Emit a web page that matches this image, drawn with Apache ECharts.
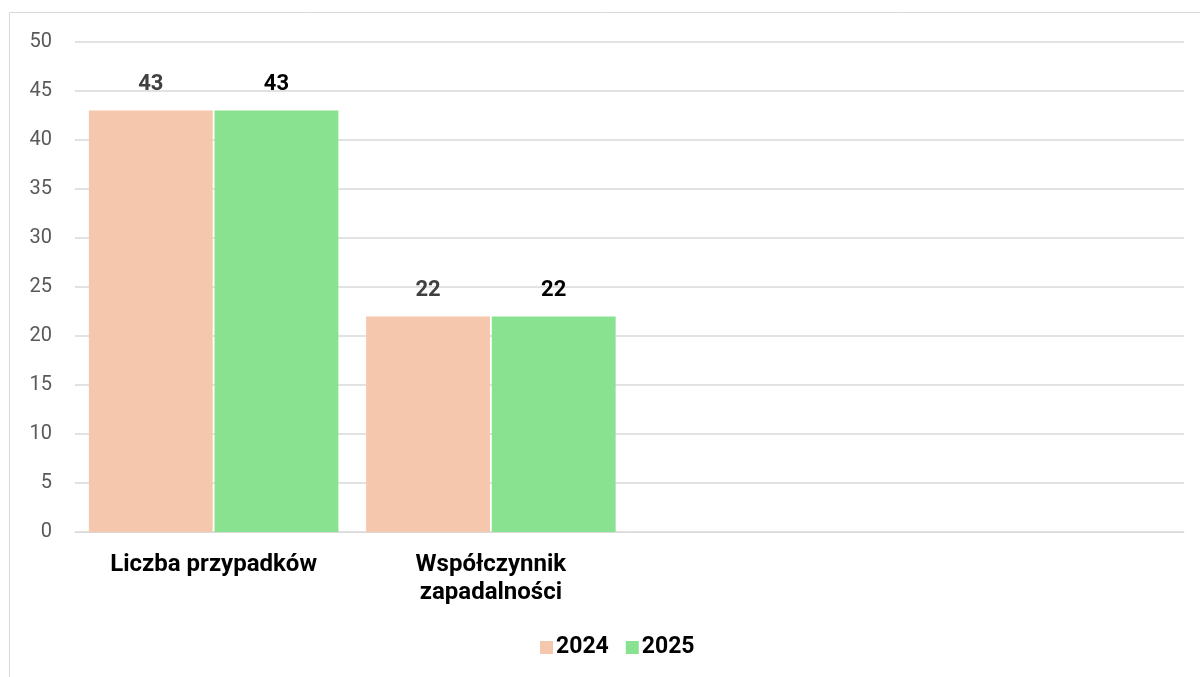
<!DOCTYPE html>
<html>
<head>
<meta charset="utf-8">
<script src="https://cdn.jsdelivr.net/npm/echarts@6/dist/echarts.min.js"></script>
<style>
html,body{margin:0;padding:0;background:#fff;}
#chart{width:1200px;height:677px;}
</style>
</head>
<body>
<div id="chart"></div>
<script>
const categories = ["Liczba przypadków", "Współczynnik\nzapadalności", "", ""];
const values2024 = [43, 22, null, null];
const values2025 = [43, 22, null, null];
const seriesNames = ["2024", "2025"];
const yTicks = {min: 0, max: 50, interval: 5};

const chart = echarts.init(document.getElementById('chart'));
const font = "Roboto, 'Liberation Sans', sans-serif";
chart.setOption({
  animation: false,
  backgroundColor: '#fff',
  graphic: [{
    type: 'rect',
    shape: {x: 9.5, y: 12.5, width: 1300, height: 800},
    style: {fill: 'none', stroke: '#d9d9d9', lineWidth: 1},
    silent: true
  }],
  grid: {left: 75, right: 16, top: 42, bottom: 145},
  legend: {
    left: 535, top: 631,
    itemWidth: 13, itemHeight: 13, itemGap: 17,
    icon: 'rect',
    textStyle: {fontFamily: font, fontSize: 23, fontWeight: 'bold', color: '#000', padding: [0,0,0,-2]},
    data: seriesNames
  },
  xAxis: {
    type: 'category',
    data: categories,
    axisTick: {show: false},
    axisLine: {lineStyle: {color: '#d9d9d9', width: 1}},
    axisLabel: {
      fontFamily: font, fontSize: 24, fontWeight: 'bold', color: '#000',
      margin: 19, lineHeight: 28, interval: 0
    }
  },
  yAxis: {
    type: 'value',
    min: yTicks.min, max: yTicks.max, interval: yTicks.interval,
    axisLine: {show: false},
    axisTick: {show: false},
    splitLine: {lineStyle: {color: '#d9d9d9', width: 1.5}},
    axisLabel: {fontFamily: font, fontSize: 20, color: '#595959', margin: 23, align: 'right'}
  },
  series: [
    {
      name: seriesNames[0], type: 'bar', data: values2024,
      barGap: '1.5%', barCategoryGap: '10%',
      itemStyle: {color: '#F5C8AE'},
      label: {show: true, position: 'top', distance: 15, fontFamily: font, fontSize: 22, fontWeight: 'bold', color: '#404040'}
    },
    {
      name: seriesNames[1], type: 'bar', data: values2025,
      itemStyle: {color: '#88E290'},
      label: {show: true, position: 'top', distance: 15, fontFamily: font, fontSize: 22, fontWeight: 'bold', color: '#000'}
    }
  ]
});
</script>
</body>
</html>
